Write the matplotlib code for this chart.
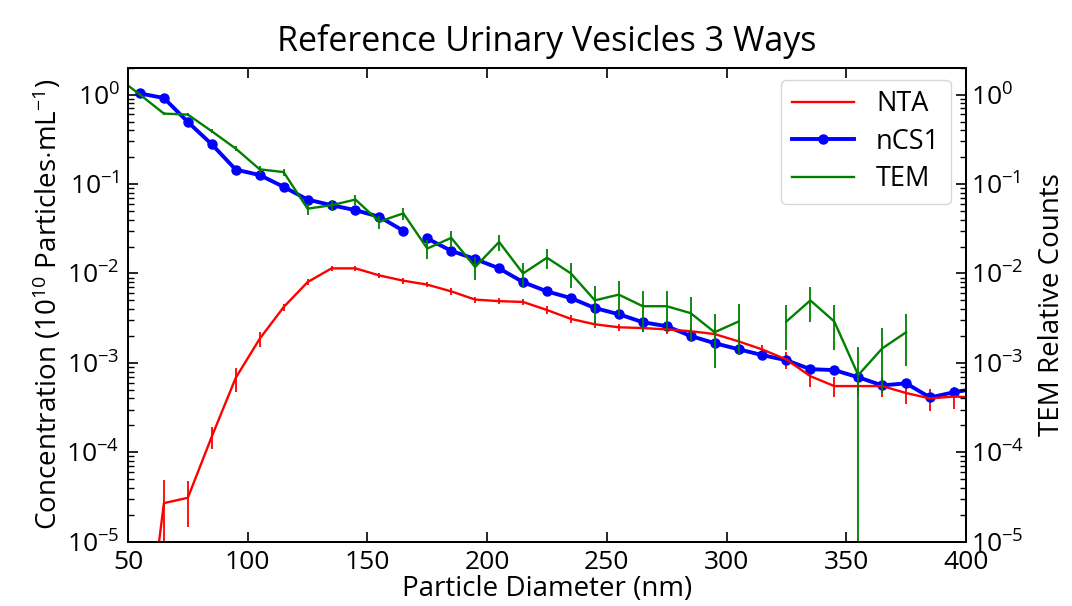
import numpy as np
import matplotlib
matplotlib.use("Agg")
import matplotlib.pyplot as plt

# Fuente parecida a la del original (tambien para los exponentes)
plt.rcParams["font.family"] = ["Open Sans", "DejaVu Sans"]
plt.rcParams["mathtext.fontset"] = "custom"
plt.rcParams["mathtext.rm"] = "Open Sans"
plt.rcParams["mathtext.it"] = "Open Sans:italic"
plt.rcParams["mathtext.bf"] = "Open Sans:bold"

# --- NTA (concentracion, eje izquierdo) ---
nta_d = [55, 65, 75, 85, 95, 105, 115, 125, 135, 145, 155, 165, 175, 185, 195,
         205, 215, 225, 235, 245, 255, 265, 275, 285, 295, 305, 315, 325, 335,
         345, 355, 365, 375, 385, 395, 405]
nta_conc = [2e-7, 2.7e-5, 3.1e-5, 1.5e-4, 6.8e-4, 1.86e-3, 4.2e-3, 8.0e-3, 0.0114,
            0.0114, 0.0095, 0.0083, 0.0075, 0.0063, 0.0051, 0.0049, 0.0048, 0.0039,
            0.0031, 0.0027, 0.0025, 0.00245, 0.00237, 0.00226, 0.0021, 0.00174,
            0.00141, 0.00109, 0.00071, 0.00055, 0.00055, 0.00055, 0.00046, 0.00040,
            0.00042, 0.00041]
nta_rel_err = [0.5, 0.8, 0.53, 0.27, 0.3, 0.2, 0.09, 0.07, 0.06, 0.06, 0.07, 0.07,
               0.07, 0.08, 0.08, 0.08, 0.08, 0.1, 0.1, 0.1, 0.1, 0.1, 0.11, 0.11,
               0.13, 0.12, 0.12, 0.22, 0.25, 0.25, 0.25, 0.25, 0.25, 0.27, 0.28, 0.28]

# --- nCS1 (concentracion, eje izquierdo); hueco entre 165 y 175 nm ---
ncs1_d = [55, 65, 75, 85, 95, 105, 115, 125, 135, 145, 155, 165, 170, 175, 185,
          195, 205, 215, 225, 235, 245, 255, 265, 275, 285, 295, 305, 315, 325,
          335, 345, 355, 365, 375, 385, 395, 405]
ncs1_conc = [1.03, 0.916, 0.494, 0.278, 0.145, 0.126, 0.093, 0.067, 0.058, 0.051,
             0.043, 0.030, np.nan, 0.0246, 0.0179, 0.0145, 0.0114, 0.0080, 0.0063,
             0.0053, 0.0041, 0.0035, 0.00285, 0.00257, 0.0020, 0.00166, 0.00142,
             0.00122, 0.00107, 0.00085, 0.00083, 0.00069, 0.00056, 0.00059,
             0.00041, 0.00047, 0.00052]

# --- TEM (cuentas relativas, eje derecho); 315 nm sin cuentas ---
tem_d = [45, 55, 65, 75, 85, 95, 105, 115, 125, 135, 145, 155, 165, 175, 185, 195,
         205, 215, 225, 235, 245, 255, 265, 275, 285, 295, 305, 315, 325, 335, 345,
         355, 365, 375]
tem_counts = [1.6, 1.0, 0.613, 0.598, 0.389, 0.249, 0.146, 0.136, 0.053, 0.058,
              0.067, 0.038, 0.047, 0.019, 0.025, 0.0118, 0.0225, 0.0100, 0.0150,
              0.0100, 0.0050, 0.0058, 0.0043, 0.0043, 0.0036, 0.0022, 0.0029,
              np.nan, 0.0029, 0.0050, 0.0029, 0.00073, 0.00145, 0.0022]
tem_rel_err = [0.03, 0.03, 0.04, 0.04, 0.05, 0.06, 0.08, 0.09, 0.14, 0.13, 0.12,
               0.17, 0.15, 0.23, 0.2, 0.29, 0.21, 0.32, 0.26, 0.32, 0.45, 0.42,
               0.48, 0.48, 0.53, 0.6, 0.58, np.nan, 0.52, 0.42, 0.52, 1.05, 0.68,
               0.58]

fig = plt.figure(figsize=(10.72, 6.06), dpi=100)
ax = fig.add_axes([0.1194, 0.1061, 0.7817, 0.7822])
ax2 = ax.twinx()

nta_err = np.array(nta_conc) * np.array(nta_rel_err)
tem_err = np.array(tem_counts) * np.array(tem_rel_err)

h_nta = ax.errorbar(nta_d, nta_conc, yerr=nta_err, color="red", lw=1.7,
                    elinewidth=1.3, capsize=0, label="NTA")
h_ncs1, = ax.plot(ncs1_d, ncs1_conc, color="blue", lw=2.8, marker="o",
                  markersize=6.5, label="nCS1")
h_tem = ax2.errorbar(tem_d, tem_counts, yerr=tem_err, color="green", lw=1.7,
                     elinewidth=1.3, capsize=0, label="TEM")

for a in (ax, ax2):
    a.set_yscale("log")
    a.set_ylim(1e-5, 2)
    a.set_xlim(50, 400)
    a.tick_params(axis="both", which="both", direction="in", labelsize=19)
    a.tick_params(which="major", length=7, width=1.2)
    a.tick_params(which="minor", length=4, width=1)
    for s in a.spines.values():
        s.set_linewidth(1.4)

ax.tick_params(top=True, pad=6)
ax.set_xticks([50, 100, 150, 200, 250, 300, 350, 400])

ax.set_title("Reference Urinary Vesicles 3 Ways", fontsize=24.5, pad=12)
ax.set_xlabel("Particle Diameter (nm)", fontsize=20, labelpad=0)
ax.set_ylabel("Concentration (10$^{10}$ Particles$\\cdot$mL$^{-1}$)", fontsize=20,
              labelpad=2)
ax2.set_ylabel("TEM Relative Counts", fontsize=20, labelpad=10)

ax2.legend([h_nta.lines[0], h_ncs1, h_tem.lines[0]], ["NTA", "nCS1", "TEM"],
           loc="upper right", fontsize=19.5, handlelength=2.3, labelspacing=0.35,
           borderaxespad=0, bbox_to_anchor=(0.982, 0.975))

fig.savefig("out.png", dpi=100)
